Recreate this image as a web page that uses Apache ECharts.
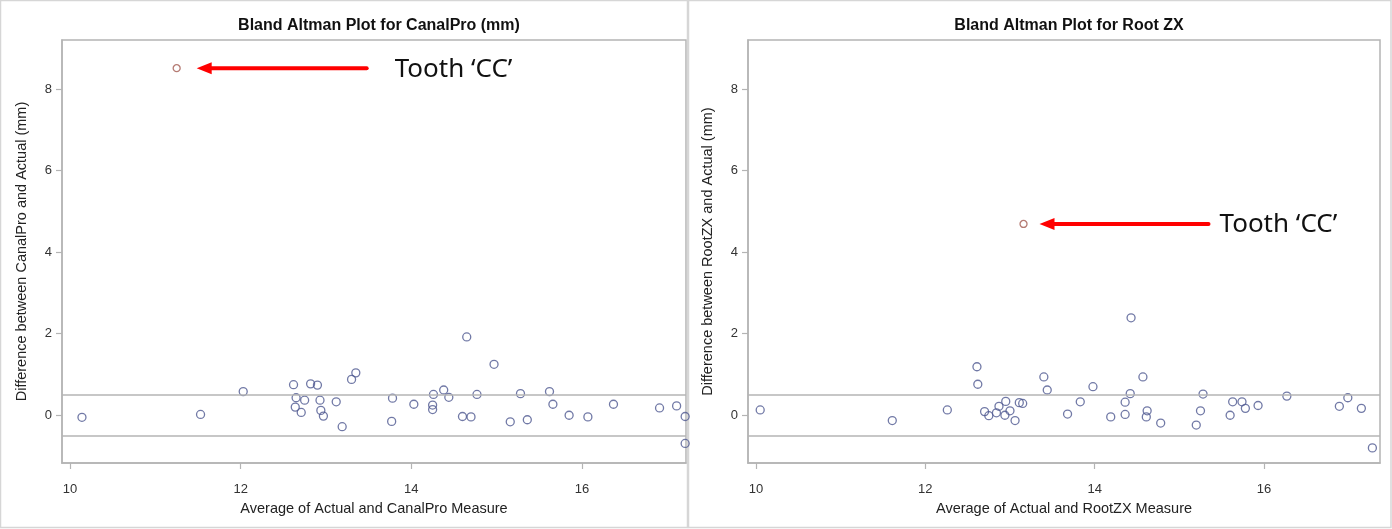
<!DOCTYPE html>
<html><head><meta charset="utf-8">
<script src="https://cdn.jsdelivr.net/npm/echarts@6/dist/echarts.min.js"></script>
<style>html,body{margin:0;padding:0;background:#fff}#c{width:1392px;height:529px}</style>
</head><body><div id="c"></div>
<script>
// ---- data ----
const xTicks = [10, 12, 14, 16];
const yTicks = [0, 2, 4, 6, 8];
const limits = [0.5, -0.5];

const canalX = [10.14, 11.53, 12.03, 12.62, 12.65, 12.64, 12.71, 12.75, 12.82, 12.90, 12.93, 12.94, 12.97, 13.12, 13.19, 13.30, 13.35,
  13.78, 13.77, 14.03, 14.25, 14.25, 14.26, 14.38, 14.44, 14.60, 14.65, 14.70, 14.77, 14.97, 15.16, 15.28, 15.36, 15.62, 15.66, 15.85, 16.07, 16.37, 16.91, 17.11, 17.21, 17.21];
const canalY = [-0.05, 0.02, 0.58, 0.75, 0.43, 0.20, 0.07, 0.37, 0.77, 0.74, 0.37, 0.12, -0.02, 0.33, -0.28, 0.88, 1.04,
  0.42, -0.15, 0.27, 0.25, 0.14, 0.51, 0.62, 0.44, -0.03, 1.92, -0.04, 0.51, 1.25, -0.16, 0.53, -0.11, 0.58, 0.27, 0.00, -0.04, 0.27, 0.18, 0.23, -0.03, -0.69];
const canalOutlier = [11.25, 8.51];

const rootX = [10.05, 11.61, 12.26, 12.61, 12.62, 12.70, 12.75, 12.84, 12.87, 12.94, 12.95, 13.00, 13.06, 13.11, 13.15, 13.40, 13.44,
  13.68, 13.83, 13.98, 14.19, 14.36, 14.36, 14.42, 14.43, 14.57, 14.62, 14.61, 14.78, 15.20, 15.25, 15.28, 15.60, 15.63, 15.74, 15.78, 15.93, 16.27, 16.89, 16.99, 17.15, 17.28];
const rootY = [0.13, -0.13, 0.13, 1.19, 0.76, 0.09, -0.01, 0.06, 0.22, 0.00, 0.34, 0.11, -0.13, 0.31, 0.29, 0.94, 0.62,
  0.03, 0.33, 0.70, -0.04, 0.02, 0.32, 0.53, 2.39, 0.94, 0.11, -0.04, -0.19, -0.24, 0.11, 0.52, 0.00, 0.33, 0.33, 0.17, 0.24, 0.47, 0.22, 0.43, 0.17, -0.80];
const rootOutlier = [13.16, 4.69];

const titles = ['Bland Altman Plot for CanalPro (mm)', 'Bland Altman Plot for Root ZX'];
const xNames = ['Average of Actual and CanalPro Measure', 'Average of Actual and RootZX Measure'];
const yNames = ['Difference between CanalPro and Actual (mm)', 'Difference between RootZX and Actual (mm)'];
const annotText = 'Tooth \u2018CC\u2019';

// ---- layout / style ----
const FONT = '"Liberation Sans", Arial, sans-serif';
const AX = '#b4b4b4';
const grids = [
  { left: 62, top: 40, width: 624, height: 423 },
  { left: 748, top: 40, width: 632, height: 423 }
];
const xRanges = [[9.906, 17.22], [9.906, 17.37]];
const yRange = [-1.17, 9.2];
const annotLayout = [
  { tipGap: 20, len: 170, textGap: 28 },
  { tipGap: 16, len: 169, textGap: 11 }
];

const chart = echarts.init(document.getElementById('c'), null, { renderer: 'canvas' });

function xAxis(i) {
  return {
    type: 'value', gridIndex: i, min: xRanges[i][0], max: xRanges[i][1],
    name: xNames[i], nameLocation: 'middle', nameGap: 38,
    nameTextStyle: { fontFamily: FONT, fontSize: 14.5, color: '#222' },
    axisLine: { show: true, onZero: false, lineStyle: { color: AX, width: 1.5 } },
    axisTick: { show: true, length: 6, customValues: xTicks, lineStyle: { color: AX, width: 1.2 } },
    axisLabel: { customValues: xTicks, margin: 20, fontFamily: FONT, fontSize: 13, color: '#333' },
    splitLine: { show: false }
  };
}
function yAxis(i) {
  return {
    type: 'value', gridIndex: i, min: yRange[0], max: yRange[1],
    name: yNames[i], nameLocation: 'middle', nameGap: 33,
    nameTextStyle: { fontFamily: FONT, fontSize: 14.5, color: '#222' },
    axisLine: { show: true, onZero: false, lineStyle: { color: AX, width: 1.5 } },
    axisTick: { show: true, length: 6, customValues: yTicks, lineStyle: { color: AX, width: 1.2 } },
    axisLabel: { customValues: yTicks, margin: 10, fontFamily: FONT, fontSize: 13, color: '#333' },
    splitLine: { show: false }
  };
}
function mainSeries(i, xs, ys) {
  return {
    type: 'scatter', xAxisIndex: i, yAxisIndex: i,
    data: xs.map((x, k) => [x, ys[k]]),
    symbol: 'circle', symbolSize: 8,
    itemStyle: { color: 'rgba(255,255,255,0)', borderColor: '#4e5890', borderWidth: 1.3 },
    markLine: {
      silent: true, symbol: ['none', 'none'], animation: false,
      label: { show: false },
      lineStyle: { color: AX, width: 1.5, type: 'solid' },
      data: limits.map(v => ({ yAxis: v }))
    },
    animation: false
  };
}
function outSeries(i, pt) {
  return {
    type: 'scatter', xAxisIndex: i, yAxisIndex: i, data: [pt],
    symbol: 'circle', symbolSize: 7,
    itemStyle: { color: 'rgba(255,255,255,0)', borderColor: '#a35a50', borderWidth: 1.3 },
    animation: false
  };
}

chart.setOption({
  animation: false,
  backgroundColor: '#fff',
  title: titles.map((t, i) => ({
    text: t, left: grids[i].left + grids[i].width / 2, top: 13, textAlign: 'center',
    textStyle: { fontFamily: FONT, fontSize: 16, fontWeight: 'bold', color: '#111' }
  })),
  grid: grids.map(g => Object.assign({ show: true, borderColor: AX, borderWidth: 1.5, backgroundColor: 'transparent' }, g)),
  xAxis: [xAxis(0), xAxis(1)],
  yAxis: [yAxis(0), yAxis(1)],
  series: [
    mainSeries(0, canalX, canalY), outSeries(0, canalOutlier),
    mainSeries(1, rootX, rootY), outSeries(1, rootOutlier)
  ]
});

// annotations anchored to the outlier points
const graphics = [
  { type: 'rect', shape: { x: 0.5, y: 0.5, width: 687, height: 527 }, style: { fill: 'none', stroke: '#d6d6d6', lineWidth: 1.5 }, silent: true },
  { type: 'rect', shape: { x: 688.5, y: 0.5, width: 702.5, height: 527 }, style: { fill: 'none', stroke: '#d6d6d6', lineWidth: 1.5 }, silent: true }
];
[canalOutlier, rootOutlier].forEach((pt, i) => {
  const p = chart.convertToPixel({ gridIndex: i }, pt);
  const L = annotLayout[i];
  const tip = p[0] + L.tipGap, y = p[1];
  const tail = tip + L.len;
  graphics.push({ type: 'line', shape: { x1: tip + 12, y1: y, x2: tail, y2: y }, style: { stroke: '#ff0000', lineWidth: 4, lineCap: 'round' }, silent: true });
  graphics.push({ type: 'polygon', shape: { points: [[tip, y], [tip + 15, y - 6], [tip + 15, y + 6]] }, style: { fill: '#ff0000' }, silent: true });
  graphics.push({ type: 'text', x: tail + L.textGap, y: y + 1, style: { text: annotText, fontFamily: '"Noto Sans", sans-serif', fontSize: 26, fill: '#111', verticalAlign: 'middle', align: 'left' }, silent: true });
});
chart.setOption({ graphic: graphics });
</script>
</body></html>
